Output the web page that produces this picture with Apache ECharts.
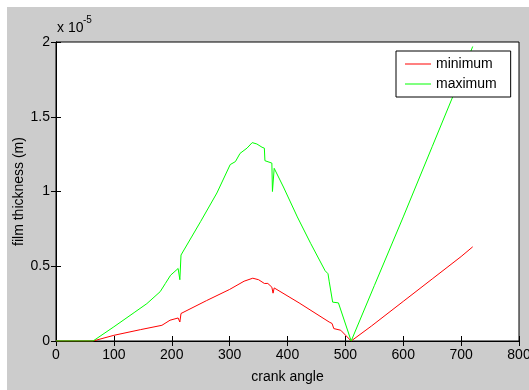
<!DOCTYPE html>
<html>
<head>
<meta charset="utf-8">
<script src="https://cdn.jsdelivr.net/npm/echarts@6/dist/echarts.min.js"></script>
<style>
  html, body { margin: 0; padding: 0; background: #fff; }
  #chart { position: absolute; left: 7px; top: 7px; width: 522px; height: 383px; background: #cccccc; }
</style>
</head>
<body>
<div id="chart"></div>
<script>
// film thickness values in units of 1e-5 m
const minAngle = [0, 64, 100, 146, 183, 197, 211, 214, 216, 260, 300, 325, 340, 350, 360, 366, 373, 375, 377, 420, 472, 477, 480, 492, 510, 545, 600, 650, 700, 720];
const minThick = [0, 0, 0.038, 0.076, 0.105, 0.139, 0.154, 0.127, 0.184, 0.27, 0.345, 0.40, 0.42, 0.41, 0.385, 0.385, 0.36, 0.32, 0.355, 0.255, 0.127, 0.117, 0.083, 0.072, 0, 0.10, 0.265, 0.415, 0.565, 0.63];

const maxAngle = [0, 64, 100, 135, 157, 180, 189, 198, 211, 214, 216, 250, 278, 301, 310, 318, 330, 339, 347, 356, 360, 361, 373, 374, 377, 393, 417, 440, 465, 470, 472, 478, 488, 510, 550, 600, 650, 700, 720];
const maxThick = [0, 0, 0.095, 0.19, 0.25, 0.33, 0.385, 0.44, 0.485, 0.41, 0.575, 0.80, 0.99, 1.18, 1.20, 1.255, 1.29, 1.327, 1.318, 1.296, 1.29, 1.206, 1.19, 1.0, 1.155, 1.03, 0.83, 0.653, 0.47, 0.45, 0.40, 0.26, 0.255, 0, 0.37, 0.83, 1.30, 1.77, 1.97];

const seriesNames = ['minimum', 'maximum'];
const xTicks = { min: 0, max: 800, interval: 100 };
const yTicks = { min: 0, max: 2, interval: 0.5 };

const font = "'Liberation Sans', Arial, sans-serif";
const zip = (xs, ys) => xs.map((x, i) => [x, ys[i]]);

const chart = echarts.init(document.getElementById('chart'));

// same line + inside ticks on all four sides (matlab "box on")
const boxAxis = {
  type: 'value',
  axisLine: { show: true, lineStyle: { color: '#000', width: 1 } },
  axisTick: { show: true, inside: true, length: 5, lineStyle: { color: '#000' } },
  splitLine: { show: false },
};

chart.setOption({
  animation: false,
  textStyle: { fontFamily: font },
  grid: {
    left: 49, top: 35, width: 463, height: 299,
    outerBoundsMode: 'none', containLabel: false,
    show: true, backgroundColor: '#fff', borderColor: '#000', borderWidth: 1,
  },
  legend: {
    data: seriesNames,
    orient: 'vertical',
    left: 389, top: 44,
    padding: [6, 14, 6, 9],
    itemGap: 6,
    itemWidth: 26, itemHeight: 1,
    icon: 'rect',
    backgroundColor: '#fff',
    borderColor: '#000', borderWidth: 1,
    textStyle: { fontFamily: font, fontSize: 14, color: '#000', lineHeight: 14 },
  },
  xAxis: [
    {
      ...boxAxis, position: 'bottom', ...xTicks,
      name: 'crank angle', nameLocation: 'middle', nameGap: 29, nameMoveOverlap: false,
      nameTextStyle: { fontFamily: font, fontSize: 14, color: '#000' },
      axisLabel: { color: '#000', fontFamily: font, fontSize: 14, margin: 7 },
    },
    { ...boxAxis, position: 'top', ...xTicks, axisLabel: { show: false } },
  ],
  yAxis: [
    {
      ...boxAxis, position: 'left', ...yTicks,
      name: 'film thickness (m)', nameLocation: 'middle', nameGap: 30, nameMoveOverlap: false,
      nameTextStyle: { fontFamily: font, fontSize: 14, color: '#000' },
      axisLabel: { color: '#000', fontFamily: font, fontSize: 14, margin: 6 },
    },
    { ...boxAxis, position: 'right', ...yTicks, axisLabel: { show: false } },
  ],
  graphic: [
    { type: 'text', left: 50, top: 14, style: { text: 'x 10', font: '14px ' + font, fill: '#000' } },
    { type: 'text', left: 76, top: 8, style: { text: '-5', font: '10px ' + font, fill: '#000' } },
  ],
  series: [
    {
      name: seriesNames[0], type: 'line', data: zip(minAngle, minThick),
      showSymbol: false, lineStyle: { color: '#ff0000', width: 1 }, itemStyle: { color: '#ff0000' },
    },
    {
      name: seriesNames[1], type: 'line', data: zip(maxAngle, maxThick),
      showSymbol: false, lineStyle: { color: '#00ff00', width: 1 }, itemStyle: { color: '#00ff00' },
    },
  ],
});
</script>
</body>
</html>
